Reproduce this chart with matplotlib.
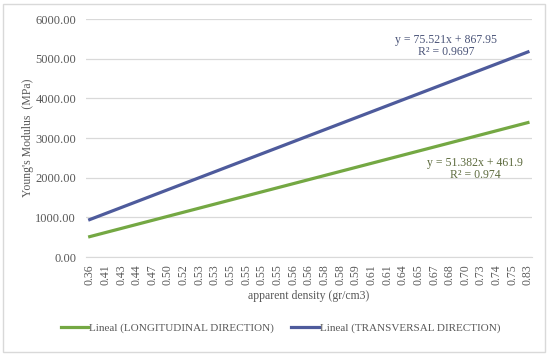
import numpy as np
import matplotlib
matplotlib.use('Agg')
import matplotlib.pyplot as plt
from matplotlib.patches import Rectangle

# visible category labels (every other category is labelled)
density_labels = ['0.36', '0.41', '0.43', '0.44', '0.47', '0.50', '0.52', '0.53', '0.53', '0.55',
                  '0.55', '0.55', '0.55', '0.56', '0.56', '0.58', '0.58', '0.59', '0.61', '0.61',
                  '0.64', '0.65', '0.67', '0.68', '0.70', '0.73', '0.74', '0.75', '0.83']
n_points = 57

# trendlines shown on the chart (x = category index)
long_slope, long_icpt, long_r2 = 51.382, 461.9, 0.974
trans_slope, trans_icpt, trans_r2 = 75.521, 867.95, 0.9697

yticks = [0, 1000, 2000, 3000, 4000, 5000, 6000]

plt.rcParams['font.family'] = ['Liberation Serif', 'DejaVu Serif']
txt = '#595959'
green = '#74a843'
blue = '#4e5b9c'

fig = plt.figure(figsize=(5.5, 3.54), dpi=100)
ax = fig.add_axes([0.156, 0.274, 0.811, 0.672])

x = np.arange(1, n_points + 1)
ax.plot(x, long_slope * x + long_icpt, color=green, lw=2.3, label='Lineal (LONGITUDINAL DIRECTION)')
ax.plot(x, trans_slope * x + trans_icpt, color=blue, lw=2.3, label='Lineal (TRANSVERSAL DIRECTION)')

ax.set_xlim(0.5, n_points + 0.5)
ax.set_ylim(0, 6000)
ax.set_yticks(yticks)
ax.set_yticklabels([f'{v:.2f}' for v in yticks], fontsize=9, color=txt)
ax.set_xticks(x[::2])
ax.set_xticklabels(density_labels, rotation=90, fontsize=8.5, color=txt)
ax.tick_params(axis='y', length=0, pad=7)
ax.tick_params(axis='x', length=0, pad=5)
ax.grid(axis='y', color='#d9d9d9', lw=0.9)
ax.set_axisbelow(True)
for s in ['top', 'left', 'right']:
    ax.spines[s].set_visible(False)
ax.spines['bottom'].set_color('#d9d9d9')

ax.set_ylabel("Young's Modulus  (MPa)", fontsize=8.5, color=txt, labelpad=1)
ax.set_xlabel('apparent density (gr/cm3)', fontsize=8.5, color=txt, labelpad=4)

ax.text(446 / 550, 1 - 46 / 354, f'y = {trans_slope}x + {trans_icpt}\nR² = {trans_r2}',
        transform=fig.transFigure, ha='center', va='center', fontsize=8.5,
        color='#4a5478', linespacing=1.0, multialignment='center')
ax.text(475 / 550, 1 - 169 / 354, f'y = {long_slope}x + {long_icpt}\nR² = {long_r2}',
        transform=fig.transFigure, ha='center', va='center', fontsize=8.5,
        color='#5d6b3e', linespacing=1.0, multialignment='center')

fig.legend(loc='center', bbox_to_anchor=(0.51, 1 - 328 / 354), ncol=2, frameon=False,
           fontsize=8, labelcolor=txt, handlelength=2.5, handletextpad=0.1, columnspacing=1.5)

fig.patches.append(Rectangle((0.005, 0.005), 0.985, 0.985, transform=fig.transFigure,
                             fill=False, ec='#d9d9d9', lw=1))

fig.savefig('out.png', dpi=100)
